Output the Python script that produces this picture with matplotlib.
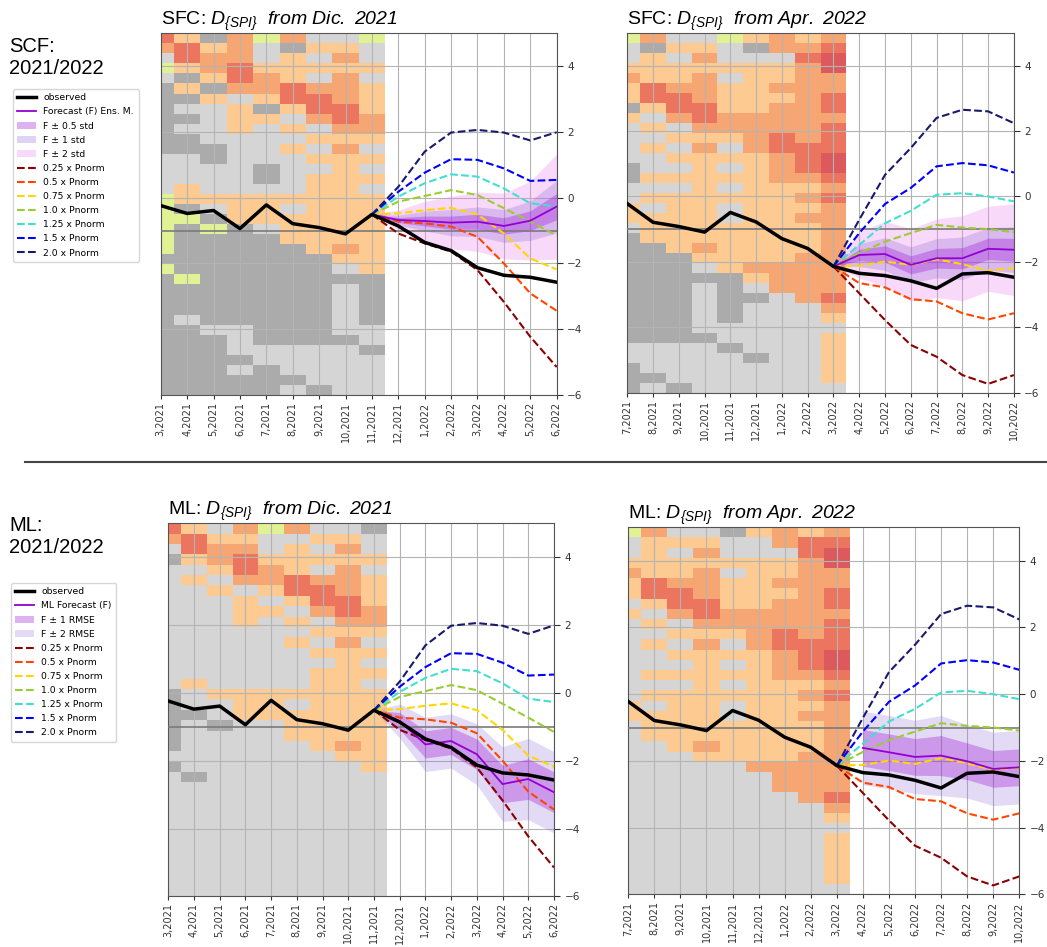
import numpy as np
import matplotlib
matplotlib.use('Agg')
import matplotlib.pyplot as plt
from matplotlib.colors import ListedColormap
from matplotlib.lines import Line2D

plt.rcParams['mathtext.fontset'] = 'custom'
plt.rcParams['mathtext.rm'] = 'Liberation Sans:italic'
plt.rcParams['mathtext.it'] = 'Liberation Sans:italic'

# ---- data ----
months_dec = ['3,2021', '4,2021', '5,2021', '6,2021', '7,2021', '8,2021', '9,2021', '10,2021',
              '11,2021', '12,2021', '1,2022', '2,2022', '3,2022', '4,2022', '5,2022', '6,2022']
months_apr = ['7,2021', '8,2021', '9,2021', '10,2021', '11,2021', '12,2021', '1,2022', '2,2022',
              '3,2022', '4,2022', '5,2022', '6,2022', '7,2022', '8,2022', '9,2022', '10,2022']

obs_dec = [-0.24, -0.48, -0.39, -0.94, -0.22, -0.79, -0.91, -1.10,
           -0.51, -0.86, -1.36, -1.61, -2.13, -2.36, -2.42, -2.57]
obs_apr = [-0.22, -0.79, -0.92, -1.09, -0.49, -0.78, -1.29, -1.59,
           -2.14, -2.35, -2.42, -2.58, -2.81, -2.37, -2.33, -2.47]

# scenario lines, months 8..15
pnorm_labels = ['0.25 x Pnorm', '0.5 x Pnorm', '0.75 x Pnorm', '1.0 x Pnorm',
                '1.25 x Pnorm', '1.5 x Pnorm', '2.0 x Pnorm']
pnorm_colors = ['darkred', 'orangered', 'gold', 'yellowgreen', 'turquoise', 'blue', 'midnightblue']
pnorm_dec = [
    [-0.51, -1.09, -1.39, -1.64, -2.20, -3.17, -4.23, -5.15],
    [-0.51, -0.73, -0.78, -0.88, -1.19, -2.00, -2.91, -3.44],
    [-0.51, -0.48, -0.38, -0.31, -0.51, -1.09, -1.85, -2.18],
    [-0.51, -0.12, 0.05, 0.23, 0.08, -0.32, -0.73, -1.15],
    [-0.51, 0.03, 0.44, 0.71, 0.64, 0.28, -0.17, -0.27],
    [-0.51, 0.18, 0.76, 1.17, 1.15, 0.89, 0.51, 0.54],
    [-0.51, 0.33, 1.40, 1.98, 2.06, 1.98, 1.74, 1.99],
]
pnorm_apr = [
    [-2.14, -2.96, -3.78, -4.54, -4.90, -5.46, -5.73, -5.46],
    [-2.14, -2.65, -2.78, -3.14, -3.21, -3.57, -3.76, -3.57],
    [-2.14, -2.12, -1.99, -2.09, -1.92, -2.07, -2.27, -2.19],
    [-2.14, -1.73, -1.38, -1.12, -0.87, -0.95, -1.00, -1.09],
    [-2.14, -1.48, -0.82, -0.44, 0.05, 0.10, 0.00, -0.15],
    [-2.14, -1.12, -0.23, 0.26, 0.92, 1.02, 0.95, 0.73],
    [-2.14, -0.71, 0.66, 1.48, 2.40, 2.65, 2.60, 2.24],
]

# forecasts
sfc_dec_x = [8, 9, 10, 11, 12, 13, 14, 15]
sfc_dec = [-0.51, -0.68, -0.71, -0.76, -0.73, -0.86, -0.70, -0.27]
sfc_dec_std = [0.0, 0.15, 0.30, 0.40, 0.45, 0.50, 0.60, 0.80]
sfc_apr_x = [8, 9, 10, 11, 12, 13, 14, 15]
sfc_apr = [-2.14, -1.79, -1.76, -2.09, -1.89, -1.89, -1.60, -1.63]
sfc_apr_std = [0.0, 0.35, 0.50, 0.55, 0.60, 0.65, 0.65, 0.70]
ml_dec_x = [8, 9, 10, 11, 12, 13, 14, 15]
ml_dec = [-0.51, -0.83, -1.52, -1.42, -1.81, -2.69, -2.54, -2.93]
ml_dec_rmse = [0.0, 0.25, 0.40, 0.40, 0.45, 0.55, 0.60, 0.60]
ml_apr_x = [9, 10, 11, 12, 13, 14, 15]
ml_apr = [-1.61, -1.74, -1.88, -1.84, -2.01, -2.24, -2.19]
ml_apr_rmse = [0.55, 0.55, 0.55, 0.60, 0.55, 0.55, 0.55]

# past-state cells: one string per row (top row first), one char per month
# D dark grey, L light grey, o light orange, s salmon, r red, R dark red, g yellow-green
cell_codes = 'DLosrRg'
cell_colors = ['#ababab', '#d5d5d5', '#fdca92', '#f6a673', '#eb755f', '#dc5a5e', '#e0f294']

grid_sfc_dec = [
    'roDsgsLLg', 'srosLDooL', 'LrssLoLsL', 'gosrooooo', 'LDorsoLsL', 'DoDssrsso',
    'DDoLorrso', 'DLLoDorro', 'DDLooLsrs', 'DLLoLoLss', 'DDLLLLooo', 'DDDLLoLsL',
    'LLDLLLooo', 'LLLLDLLoL', 'LLLLDLooo', 'LoLLLLooL', 'goooooooo', 'gDLooLooo',
    'ggDoooooo', 'gDgDLoooo', 'gDDDDoooo', 'gDDDDDoso', 'DDDDDDDoo', 'gDDDDDDLo',
    'DgDDDDDDD', 'DDDDDDDLD', 'DDDDDDDLD', 'DDDDDDDLD', 'DLDDDDDLD', 'DDLLDDDLL',
    'DDDLDDDDL', 'DDDLLLLLD', 'DDDDLLLLL', 'DDDLDLLLL', 'DDDDDDLLL', 'DDDDDLDLL',
]
grid_sfc_apr = [
    'gsLLgosos', 'LDooLDssr', 'LoLsLLLrR', 'ooooooosR', 'soosLooss', 'orssoosss',
    'orrsooosr', 'Dorroossr', 'oLsrsssss', 'LoLsssssr', 'LLooosrsr', 'LoLsLsrrr',
    'LLoooosrR', 'DLLoLosrR', 'Dooooossr', 'LLLoLooos', 'Loooooosr', 'oLooLooos',
    'ooooLooss', 'Looooooos', 'Dooooooos', 'DDosoooos', 'DDDooooss', 'DDDLossss',
    'DDDDDosss', 'DDDLDLsss', 'DDDLDDLsr', 'DDDLDLLLs', 'DDDLDLLLo', 'DDDLLLLLL',
    'DDDDLLLLo', 'LLLLDLLLo', 'LLLLLDLLo', 'DLLLLLLLo', 'DDLLLLLLo', 'DLDLLLLLL',
]
grid_ml_dec = [
    'roLsgsLLD', 'srooLLooL', 'LrssLoLsL', 'Dosrooooo', 'LLorsoLsL', 'LoLssrsso',
    'LLoLorrso', 'LLLoLorro', 'LLLooLsrs', 'LLLoLoLss', 'LLLLLLooo', 'LLLLLoLsL',
    'LLLLLLooo', 'LLLLLLLoL', 'LLLLLLooo', 'LoLLLLooL', 'DLooooooo', 'DLLooLooo',
    'DDLoooooo', 'DLDLLoooo', 'DLLLLoooo', 'DLLLLLoso', 'LLLLLLLoo', 'DLLLLLLLo',
    'LDLLLLLLL', 'LLLLLLLLL', 'LLLLLLLLL', 'LLLLLLLLL', 'LLLLLLLLL', 'LLLLLLLLL',
    'LLLLLLLLL', 'LLLLLLLLL', 'LLLLLLLLL', 'LLLLLLLLL', 'LLLLLLLLL', 'LLLLLLLLL',
]
grid_ml_apr = [
    'gsLLDosos', 'LoooLLsrr', 'LoLsLLLrR', 'ooooooosR', 'soosLooss', 'orssoosss',
    'orrsooosr', 'Lorroossr', 'oLsrsssss', 'LoLsssssr', 'LLooosrsr', 'LoLsLsrrr',
    'LLoooosrR', 'LLLoLosrR', 'Looooossr', 'LLLoLooos', 'Loooooosr', 'oLooLooos',
    'ooooLooss', 'Looooooos', 'Looooooos', 'LLosoooos', 'LLLooooss', 'LLLLLssss',
    'LLLLLLsss', 'LLLLLLsss', 'LLLLLLLsr', 'LLLLLLLLs', 'LLLLLLLLo', 'LLLLLLLLL',
    'LLLLLLLLo', 'LLLLLLLLo', 'LLLLLLLLo', 'LLLLLLLLo', 'LLLLLLLLo', 'LLLLLLLLL',
]

cell_cmap = ListedColormap(cell_colors)


def draw_panel(ax, grid, obs, fx, fc, spread, pnorm, months, title, bands, fc_label):
    arr = np.array([[cell_codes.index(c) for c in row] for row in grid])[::-1]
    xe = np.arange(arr.shape[1] + 1) - 0.5
    ye = np.linspace(-6, 5, arr.shape[0] + 1)
    ax.pcolormesh(xe, ye, arr, cmap=cell_cmap, vmin=-0.5, vmax=len(cell_codes) - 0.5, zorder=1)

    h_obs, = ax.plot(range(len(obs)), obs, color='black', lw=2.5, zorder=6, label='observed')
    fc = np.array(fc)
    spread = np.array(spread)
    band_handles = []
    for mult, col, alpha, lab in bands:
        hb = ax.fill_between(fx, fc - mult * spread, fc + mult * spread,
                             color=col, alpha=alpha, lw=0, zorder=2, label=lab)
        band_handles.append(hb)
    h_fc, = ax.plot(fx, fc, color='darkviolet', lw=1.3, zorder=5, label=fc_label)
    px = range(8, 16)
    line_handles = []
    for vals, col, lab in zip(pnorm, pnorm_colors, pnorm_labels):
        hl, = ax.plot(px, vals, color=col, ls='--', lw=1.5, zorder=4, label=lab)
        line_handles.append(hl)
    ax.axhline(-1, color='#7a7a7a', lw=1.2, zorder=3)

    ax.set_xlim(0, 15)
    ax.set_ylim(-6, 5)
    ax.set_xticks(range(16))
    ax.set_xticklabels(months, rotation=90, fontsize=7, color='#333333')
    ax.set_yticks([-6, -4, -2, 0, 2, 4])
    ax.yaxis.tick_right()
    ax.tick_params(axis='y', labelsize=7.5, colors='#333333', length=4)
    ax.tick_params(axis='x', length=3, pad=2, colors='#333333')
    ax.grid(True, color='#b4b4b4', lw=0.8)
    for sp in ax.spines.values():
        sp.set_color('#555555')
    ax.set_title(title, loc='left', fontsize=14, fontfamily='Liberation Sans', pad=3)
    return [h_obs, h_fc] + band_handles[::-1] + line_handles


fig = plt.figure(figsize=(10.47, 9.47), dpi=100)

ax_tl = fig.add_axes([0.1535, 0.5829, 0.3782, 0.382])
ax_tr = fig.add_axes([0.5991, 0.5853, 0.3693, 0.380])
ax_bl = fig.add_axes([0.1607, 0.0535, 0.3684, 0.3939])
ax_br = fig.add_axes([0.6001, 0.0555, 0.3734, 0.3877])

sfc_bands = [(2, 'violet', 0.3, 'F ± 2 std'),
             (1, 'mediumpurple', 0.3, 'F ± 1 std'),
             (0.5, 'darkviolet', 0.3, 'F ± 0.5 std')]
ml_bands = [(2, 'mediumpurple', 0.25, 'F ± 2 RMSE'),
            (1, 'darkviolet', 0.3, 'F ± 1 RMSE')]

h_sfc = draw_panel(ax_tl, grid_sfc_dec, obs_dec, sfc_dec_x, sfc_dec, sfc_dec_std, pnorm_dec, months_dec,
                   r'SFC: $D_{\{SPI\}}\ \ from\ Dic.\ 2021$', sfc_bands, 'Forecast (F) Ens. M.')
draw_panel(ax_tr, grid_sfc_apr, obs_apr, sfc_apr_x, sfc_apr, sfc_apr_std, pnorm_apr, months_apr,
           r'SFC: $D_{\{SPI\}}\ \ from\ Apr.\ 2022$', sfc_bands, 'Forecast (F) Ens. M.')
h_ml = draw_panel(ax_bl, grid_ml_dec, obs_dec, ml_dec_x, ml_dec, ml_dec_rmse, pnorm_dec, months_dec,
                  r'ML: $D_{\{SPI\}}\ \ from\ Dic.\ 2021$', ml_bands, 'ML Forecast (F)')
draw_panel(ax_br, grid_ml_apr, obs_apr, ml_apr_x, ml_apr, ml_apr_rmse, pnorm_apr, months_apr,
           r'ML: $D_{\{SPI\}}\ \ from\ Apr.\ 2022$', ml_bands, 'ML Forecast (F)')

fig.text(0.009, 1 - 37 / 947, 'SCF:\n2021/2022', fontsize=14.5, fontfamily='Liberation Sans',
         va='top', ha='left', linespacing=1.2)
fig.text(0.009, 1 - 516 / 947, 'ML:\n2021/2022', fontsize=14.5, fontfamily='Liberation Sans',
         va='top', ha='left', linespacing=1.2)

fig.legend(handles=h_sfc, labels=[h.get_label() for h in h_sfc], loc='upper left',
           bbox_to_anchor=(8 / 1047, 1 - 84 / 947), fontsize=6.7, handlelength=2.0,
           borderpad=0.5, labelspacing=0.55, edgecolor='#cccccc')
fig.legend(handles=h_ml, labels=[h.get_label() for h in h_ml], loc='upper left',
           bbox_to_anchor=(6 / 1047, 1 - 578 / 947), fontsize=6.7, handlelength=2.0,
           borderpad=0.5, labelspacing=0.55, edgecolor='#cccccc')

fig.add_artist(Line2D([25 / 1047, 1.0], [1 - 462 / 947, 1 - 462 / 947],
                      transform=fig.transFigure, color='#444444', lw=1.5))

fig.savefig('out.png', dpi=100)
